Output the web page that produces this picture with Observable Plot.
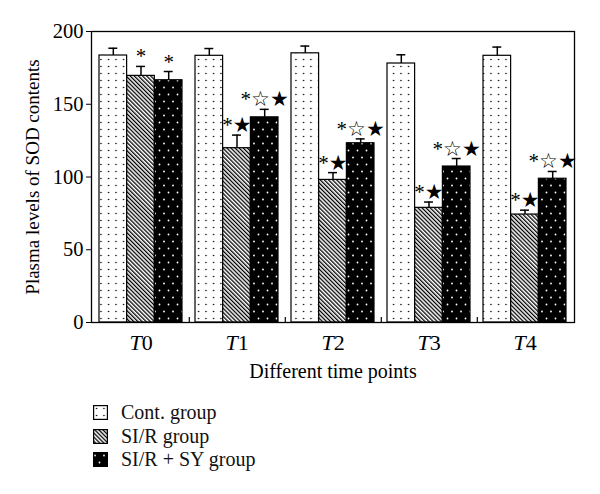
<!DOCTYPE html>
<html>
<head>
<meta charset="utf-8">
<script src="https://cdn.jsdelivr.net/npm/d3@7"></script>
<script src="https://cdn.jsdelivr.net/npm/@observablehq/plot@0.6"></script>
<style>
  body { margin: 0; background: white; font-family: "Liberation Serif", serif; }
  #legend { margin-left: 93px; padding-top: 11px; font-size: 20px; color: #111; }
  #legend .row { display: flex; align-items: center; height: 23.5px; }
  #legend svg { margin-right: 13px; }
</style>
</head>
<body>
<div id="chart"></div>
<div id="legend"></div>
<script>
const times = ["T0", "T1", "T2", "T3", "T4"];
const groups = ["Cont. group", "SI/R group", "SI/R + SY group"];
const contValues = [183.5, 183.3, 185, 178, 183.3];
const sirValues  = [169.5, 119.8, 98, 78.8, 74.2];
const sySValues  = [166.5, 141, 123.2, 107.2, 98.8];
const contErr = [5, 5, 5, 6, 6];
const sirErr  = [6.5, 9, 5, 4, 3];
const syErr   = [6, 5.5, 3, 5.5, 5];
const contMarks = ["", "", "", "", ""];
const sirMarks  = ["*", "*★", "*★", "*★", "*★"];
const syMarks   = ["*", "*☆★", "*☆★", "*☆★", "*☆★"];
const yTicks = [0, 50, 100, 150, 200];

const seriesValues = [contValues, sirValues, sySValues];
const seriesErr = [contErr, sirErr, syErr];
const seriesMarks = [contMarks, sirMarks, syMarks];
const patternIds = ["pat-dots", "pat-hatch", "pat-black"];

const rows = [];
groups.forEach((g, j) => times.forEach((t, i) => rows.push({
  time: t, group: g, j, value: seriesValues[j][i], err: seriesErr[j][i], mark: seriesMarks[j][i]
})));

const W = 600, H = 390, mL = 91, mR = 26, mT = 31, mB = 68;
const pIn = 0.14, pOut = 0.07;
const band = d3.scaleBand().domain(times).range([mL, W - mR]).paddingInner(pIn).paddingOuter(pOut);
const bw = band.bandwidth(), step = band.step();
const barW = bw / 3;
const capW = 9;
const font = "Liberation Serif, DejaVu Serif, serif";

const marks = [];
groups.forEach((g, j) => {
  const data = rows.filter(d => d.j === j);
  marks.push(Plot.barY(data, {
    x: "time", y: "value", fill: `url(#${patternIds[j]})`, stroke: "black", strokeWidth: 1.2,
    insetLeft: j * barW, insetRight: (2 - j) * barW
  }));
  marks.push(Plot.ruleX(data, {
    x: "time", y1: "value", y2: d => d.value + d.err, dx: (j - 1) * barW, stroke: "black", strokeWidth: 1.5
  }));
  marks.push(Plot.tickY(data, {
    x: "time", y: d => d.value + d.err, stroke: "black", strokeWidth: 1.5,
    insetLeft: j * barW + (barW - capW) / 2, insetRight: (2 - j) * barW + (barW - capW) / 2
  }));
  marks.push(Plot.text(data.filter(d => d.mark), {
    x: "time", y: d => d.value + d.err, text: "mark", dx: (j - 1) * barW, dy: -3,
    lineAnchor: "bottom", fontSize: 21, fontFamily: "Liberation Serif, DejaVu Sans, sans-serif", fill: "black"
  }));
});

const plot = Plot.plot({
  width: W, height: H,
  marginLeft: mL, marginRight: mR, marginTop: mT, marginBottom: mB,
  style: { fontFamily: font, fontSize: "19px", color: "black", background: "white" },
  x: { type: "band", domain: times, paddingInner: pIn, paddingOuter: pOut },
  y: { domain: [0, 200] },
  marks: [
    ...marks,
    Plot.ruleX(times.slice(0, -1), { x: d => d, y1: 0, y2: 3.5, dx: step / 2, stroke: "black", strokeWidth: 1.2 }),
    Plot.frame({ stroke: "black", strokeWidth: 1.3 }),
    Plot.axisY({ ticks: yTicks, tickSize: 5, tickPadding: 3, fontSize: 20.5, label: null }),
    Plot.axisY({ ticks: [], tickSize: 0, label: "Plasma levels of SOD contents", fontSize: 19,
      labelAnchor: "center", labelOffset: 66, labelArrow: "none" }),
    Plot.axisX({ tickSize: 0, tickPadding: 12, fontSize: 22, label: null }),
    Plot.axisX({ ticks: [], tickSize: 0, label: "Different time points", fontSize: 20,
      labelAnchor: "center", labelOffset: 55, labelArrow: "none" })
  ]
});

// pattern definitions
const ns = "http://www.w3.org/2000/svg";
const defs = document.createElementNS(ns, "defs");
defs.innerHTML = `
  <pattern id="pat-dots" patternUnits="userSpaceOnUse" width="7.5" height="7">
    <rect width="7.5" height="7" fill="white"/>
    <circle cx="3.5" cy="3.5" r="0.8" fill="black"/>
  </pattern>
  <pattern id="pat-hatch" patternUnits="userSpaceOnUse" width="2.9" height="10" patternTransform="rotate(-45)">
    <rect width="2.9" height="10" fill="white"/>
    <rect width="1.3" height="10" fill="black"/>
  </pattern>
  <pattern id="pat-black" patternUnits="userSpaceOnUse" width="9" height="14">
    <rect width="9" height="14" fill="black"/>
    <circle cx="2" cy="3.5" r="0.9" fill="white"/>
    <circle cx="6.5" cy="10.5" r="0.9" fill="white"/>
  </pattern>`;
plot.insertBefore(defs, plot.firstChild);

// italic T in time-point labels
plot.querySelectorAll('g[aria-label="x-axis tick label"] text').forEach(el => {
  const t = el.textContent;
  el.textContent = "";
  const a = document.createElementNS(ns, "tspan");
  a.setAttribute("font-style", "italic");
  a.textContent = t.slice(0, 1);
  const b = document.createElementNS(ns, "tspan");
  b.textContent = t.slice(1);
  el.appendChild(a); el.appendChild(b);
});

document.getElementById("chart").appendChild(plot);

// legend
const legend = document.getElementById("legend");
groups.forEach((g, j) => {
  const row = document.createElement("div");
  row.className = "row";
  row.innerHTML = `<svg width="15" height="15"><rect x="0.6" y="0.6" width="13.8" height="13.8" fill="url(#${patternIds[j]})" stroke="black" stroke-width="1.2"/></svg><span>${g}</span>`;
  legend.appendChild(row);
});
</script>
</body>
</html>
